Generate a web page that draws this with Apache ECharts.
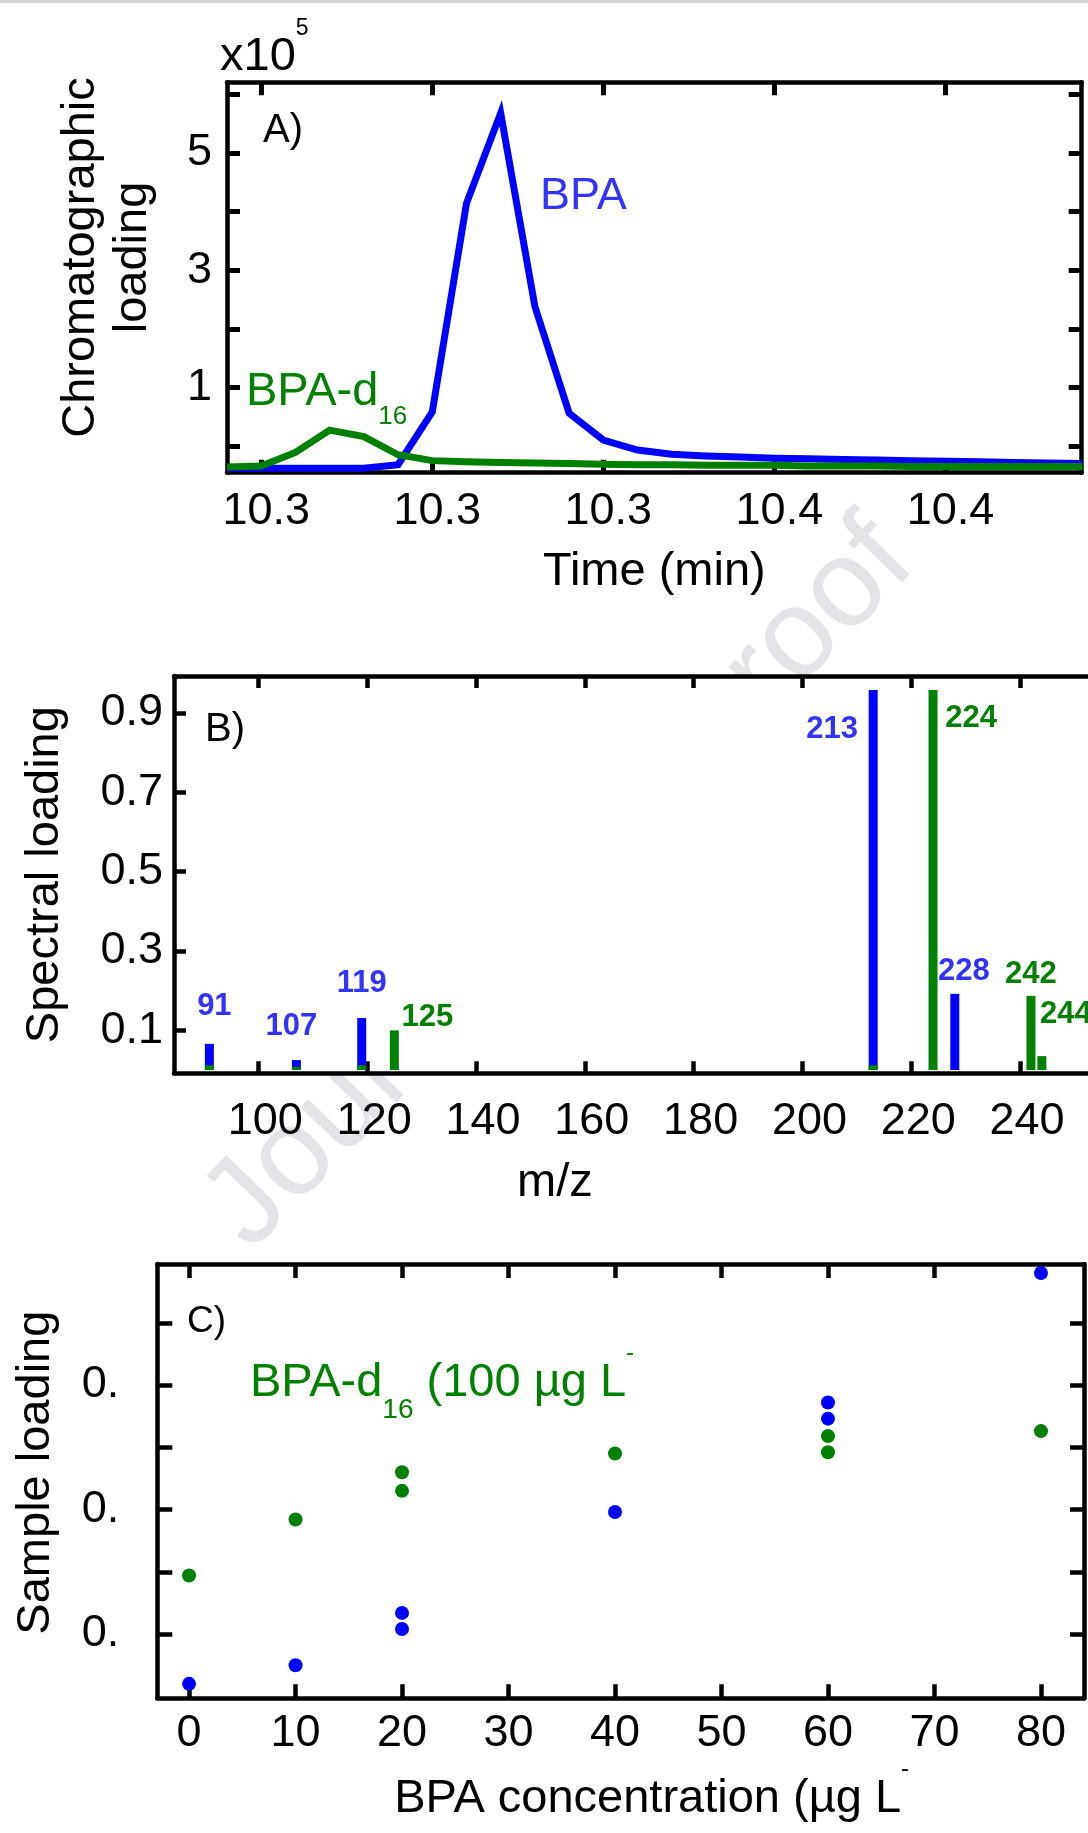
<!DOCTYPE html>
<html>
<head>
<meta charset="utf-8">
<script src="https://cdn.jsdelivr.net/npm/echarts@6/dist/echarts.min.js"></script>
<style>
  html, body { margin: 0; padding: 0; background: #fff; }
  #chart { width: 1088px; height: 1833px; }
</style>
</head>
<body>
<div id="chart"></div>
<script>
// ---------- Panel A: chromatographic loadings (x10^5) vs retention time ----------
const scanTime = [10.254, 10.260, 10.266, 10.272, 10.278, 10.284, 10.290, 10.296, 10.302, 10.308,
                  10.314, 10.320, 10.326, 10.332, 10.338, 10.344, 10.350, 10.356, 10.362, 10.368,
                  10.374, 10.380, 10.386, 10.392, 10.398, 10.404];
const bpaProfile = [-0.38, -0.38, -0.38, -0.38, -0.38, -0.32, 0.58, 4.14, 5.68, 2.38,
                    0.56, 0.10, -0.07, -0.14, -0.17, -0.19, -0.21, -0.22, -0.23, -0.24,
                    -0.25, -0.26, -0.27, -0.28, -0.29, -0.30];
const d16Profile = [-0.36, -0.34, -0.11, 0.27, 0.16, -0.15, -0.25, -0.27, -0.28, -0.29,
                    -0.30, -0.31, -0.32, -0.32, -0.33, -0.33, -0.33, -0.34, -0.34, -0.34,
                    -0.35, -0.35, -0.35, -0.35, -0.35, -0.35];
const timeTicks = [10.26, 10.29, 10.32, 10.35, 10.38];
const chromTicks = [0, 1, 2, 3, 4, 5, 6];
const chromLabels = [1, 3, 5];

// ---------- Panel B: spectral loadings vs m/z ----------
const bpaMz = [91, 107, 119, 213, 228];
const bpaSpectral = [0.066, 0.025, 0.131, 0.958, 0.192];
const d16Mz = [91, 107, 119, 125, 213, 224, 242, 244];
const d16Spectral = [0.012, 0.008, 0.012, 0.100, 0.012, 0.958, 0.187, 0.035];
const bpaLabelled = [91, 107, 119, 213, 228];
const d16Labelled = [125, 224, 242, 244];
const mzTicks = [100, 120, 140, 160, 180, 200, 220, 240];
const spectralTicks = [0.1, 0.3, 0.5, 0.7, 0.9];

// ---------- Panel C: sample loadings vs BPA concentration ----------
const bpaConc = [0, 10, 20, 20, 40, 60, 60, 80];
const bpaSample = [0.060, 0.075, 0.117, 0.104, 0.198, 0.286, 0.273, 0.390];
const d16Conc = [0, 10, 20, 20, 40, 60, 60, 80];
const d16Sample = [0.147, 0.192, 0.230, 0.215, 0.245, 0.259, 0.246, 0.263];
const concTicks = [0, 10, 20, 30, 40, 50, 60, 70, 80];
const sampleTicks = [0.1, 0.15, 0.2, 0.25, 0.3, 0.35];
const sampleLabels = [0.1, 0.2, 0.3];

// ---------- styling ----------
const FONT = '"Liberation Sans", Arial, Helvetica, sans-serif';
const BLUE = '#0000ff';
const BLUE_TEXT = '#3333ff';
const GREEN = '#008000';
const BLACK = '#000000';
const BAR_W = 9;

// where each peak's m/z tag sits, relative to the top of its bar (px)
const peakLabelNudge = {
  91: [5, -37], 107: [-5, -34], 119: [0, -35], 213: [-41, 39], 228: [9, -22],
  125: [33, -13], 224: [38, 28], 242: [0, -21], 244: [24, -42]
};

function frameAxis(o) {
  // one side of a boxed frame: solid black line, inward ticks
  return Object.assign({
    type: 'value',
    splitLine: { show: false },
    axisLine: { show: true, onZero: false, lineStyle: { color: BLACK, width: 4.5 } },
    axisTick: { show: true, inside: true, length: o.tickLen || 12,
                lineStyle: { color: BLACK, width: o.tickWidth || 4.5 },
                customValues: o.ticks },
    axisLabel: { show: false }
  }, o.extra || {});
}

function labelStyle(values, fmt, margin, padding) {
  return { show: true, customValues: values, formatter: fmt, margin: margin,
           fontFamily: FONT, fontSize: 45, lineHeight: 45, color: BLACK, padding: padding };
}

const gridA = { left: 227, top: 82.3, width: 854.7, height: 390.4 };
const gridB = { left: 174, top: 676, width: 927.7, height: 397.3 };
const gridC = { left: 157.3, top: 1264, width: 926.7, height: 434.3 };

const xAxes = [
  // A bottom
  frameAxis({ ticks: timeTicks, tickLen: 13, tickWidth: 5, extra: {
    gridIndex: 0, position: 'bottom', min: 10.2540, max: 10.4039,
    axisLabel: labelStyle(timeTicks, v => (Math.round(v * 10 + 1e-9) / 10).toFixed(1), 16.5, [0, 0, 0, 10]),
    name: 'Time (min)', nameLocation: 'middle', nameGap: 76,
    nameTextStyle: { fontFamily: FONT, fontSize: 47, lineHeight: 47, color: BLACK }
  }}),
  // A top
  frameAxis({ ticks: timeTicks, tickLen: 13, tickWidth: 5, extra: {
    gridIndex: 0, position: 'top', min: 10.2540, max: 10.4039 }}),
  // B bottom
  frameAxis({ ticks: mzTicks, tickLen: 12, extra: {
    gridIndex: 1, position: 'bottom', min: 84.5, max: 255,
    axisLabel: labelStyle(mzTicks, v => String(v), 25.7, [0, 0, 0, 14]),
    name: 'm/z', nameLocation: 'middle', nameGap: 86,
    nameTextStyle: { fontFamily: FONT, fontSize: 47, lineHeight: 47, color: BLACK, padding: [0, 166, 0, 0] }
  }}),
  // B top
  frameAxis({ ticks: mzTicks, tickLen: 12, extra: {
    gridIndex: 1, position: 'top', min: 84.5, max: 255 }}),
  // C bottom
  frameAxis({ ticks: concTicks, tickLen: 14, extra: {
    gridIndex: 2, position: 'bottom', min: -2.98, max: 84.04,
    axisLabel: labelStyle(concTicks, v => String(v), 13.2),
    name: '{m|BPA concentration (µg L}{p|-}', nameLocation: 'middle', nameGap: 76,
    nameTextStyle: { padding: [0, 0, 0, 62], rich: {
      m: { fontFamily: FONT, fontSize: 47, lineHeight: 47, color: BLACK },
      p: { fontFamily: FONT, fontSize: 24, lineHeight: 24, color: BLACK, padding: [0, 0, 59, 0] }
    }}
  }}),
  // C top
  frameAxis({ ticks: concTicks, tickLen: 14, extra: {
    gridIndex: 2, position: 'top', min: -2.98, max: 84.04 }})
];

const yAxes = [
  // A left
  frameAxis({ ticks: chromTicks, tickLen: 13, tickWidth: 5, extra: {
    gridIndex: 0, position: 'left', min: -0.456, max: 6.206,
    axisLabel: labelStyle(chromLabels, v => String(v), 15, [14, 0, 0, 0]),
    name: 'Chromatographic\nloading', nameLocation: 'middle', nameRotate: 90, nameGap: 68,
    nameTextStyle: { fontFamily: FONT, fontSize: 47, lineHeight: 52, color: BLACK, padding: [0, 0, 0, 40] }
  }}),
  // A right
  frameAxis({ ticks: chromTicks, tickLen: 13, tickWidth: 5, extra: {
    gridIndex: 0, position: 'right', min: -0.456, max: 6.206 }}),
  // B left
  frameAxis({ ticks: spectralTicks, tickLen: 12, extra: {
    gridIndex: 1, position: 'left', min: -0.0083, max: 0.9934,
    axisLabel: labelStyle(spectralTicks, v => v.toFixed(1), 11, [14, 0, 0, 0]),
    name: 'Spectral loading', nameLocation: 'middle', nameRotate: 90, nameGap: 103,
    nameTextStyle: { fontFamily: FONT, fontSize: 47, lineHeight: 52, color: BLACK }
  }}),
  // B right
  frameAxis({ ticks: spectralTicks, tickLen: 12, extra: {
    gridIndex: 1, position: 'right', min: -0.0083, max: 0.9934 }}),
  // C left
  frameAxis({ ticks: sampleTicks, tickLen: 15, extra: {
    gridIndex: 2, position: 'left', min: 0.0484, max: 0.3972,
    axisLabel: labelStyle(sampleLabels, v => String(v).slice(0, 2), 38, [10, 0, 0, 0]),
    name: 'Sample loading', nameLocation: 'middle', nameRotate: 90, nameGap: 95,
    nameTextStyle: { fontFamily: FONT, fontSize: 47, lineHeight: 52, color: BLACK, padding: [0, 0, 0, 17] }
  }}),
  // C right
  frameAxis({ ticks: sampleTicks, tickLen: 14, extra: {
    gridIndex: 2, position: 'right', min: 0.0484, max: 0.3972 }})
];

// stick spectrum: one thin bar per m/z, tagged with its m/z where listed
function peakSeries(mz, vals, labelled, barColor, textColor) {
  return {
    type: 'custom', xAxisIndex: 2, yAxisIndex: 2, clip: false,
    data: mz.map((m, i) => [m, vals[i]]),
    renderItem: (params, api) => {
      const m = api.value(0);
      const v = api.value(1);
      const base = api.coord([m, 0]);
      const top = api.coord([m, v]);
      const children = [{
        type: 'rect',
        shape: { x: top[0] - BAR_W / 2, y: top[1], width: BAR_W, height: base[1] - top[1] },
        style: { fill: barColor }
      }];
      if (labelled.includes(m)) {
        const n = peakLabelNudge[m] || [0, -20];
        children.push({
          type: 'text', x: top[0] + n[0], y: top[1] + n[1],
          style: { text: String(m), font: 'bold 31px ' + FONT, fill: textColor,
                   align: 'center', verticalAlign: 'middle' }
        });
      }
      return { type: 'group', children: children };
    }
  };
}

const series = [
  { type: 'line', xAxisIndex: 0, yAxisIndex: 0, showSymbol: false, symbol: 'none',
    data: scanTime.map((t, i) => [t, bpaProfile[i]]),
    lineStyle: { color: BLUE, width: 7, join: 'miter' }, z: 3 },
  { type: 'line', xAxisIndex: 0, yAxisIndex: 0, showSymbol: false, symbol: 'none',
    data: scanTime.map((t, i) => [t, d16Profile[i]]),
    lineStyle: { color: GREEN, width: 7, join: 'miter' }, z: 4 },
  peakSeries(bpaMz, bpaSpectral, bpaLabelled, BLUE, BLUE_TEXT),
  peakSeries(d16Mz, d16Spectral, d16Labelled, GREEN, GREEN),
  { type: 'scatter', xAxisIndex: 4, yAxisIndex: 4, symbolSize: 14,
    itemStyle: { color: GREEN, opacity: 1 },
    data: d16Conc.map((c, i) => [c, d16Sample[i]]) },
  { type: 'scatter', xAxisIndex: 4, yAxisIndex: 4, symbolSize: 14,
    itemStyle: { color: BLUE, opacity: 1 },
    data: bpaConc.map((c, i) => [c, bpaSample[i]]) }
];

const textEl = (x, y, rich, text) => ({
  type: 'text', x: x, y: y, z: 50,
  style: { text: text, rich: rich, align: 'left', verticalAlign: 'middle' }
});

const graphic = [
  { type: 'rect', z: 50, shape: { x: 0, y: 0, width: 1088, height: 3 }, style: { fill: '#d4d4d4' } },
  { type: 'text', z: -100, x: 560, y: 885, rotation: 0.80,
    style: { text: 'Journal Pre-proof', font: '124px "Liberation Sans", Arial, sans-serif',
             fill: '#e4e4e6', align: 'center', verticalAlign: 'middle' } },
  // x10^5 scale note
  textEl(220, 56.7, {
    a: { fontFamily: FONT, fontSize: 47, lineHeight: 47, fill: BLACK },
    s: { fontFamily: FONT, fontSize: 23, lineHeight: 23, fill: BLACK, padding: [0, 0, 56, 0] }
  }, '{a|x10}{s|5}'),
  // panel tags
  textEl(263, 131, { t: { fontFamily: FONT, fontSize: 40, lineHeight: 40, fill: BLACK } }, '{t|A)}'),
  textEl(205, 730, { t: { fontFamily: FONT, fontSize: 40, lineHeight: 40, fill: BLACK } }, '{t|B)}'),
  textEl(187, 1322, { t: { fontFamily: FONT, fontSize: 37, lineHeight: 37, fill: BLACK } }, '{t|C)}'),
  // series captions in panel A
  textEl(540, 197, { t: { fontFamily: FONT, fontSize: 45, lineHeight: 45, fill: BLUE_TEXT } }, '{t|BPA}'),
  textEl(246, 392, {
    m: { fontFamily: FONT, fontSize: 47, lineHeight: 47, fill: GREEN },
    b: { fontFamily: FONT, fontSize: 26, lineHeight: 26, fill: GREEN, padding: [50, 0, 0, 0] }
  }, '{m|BPA-d}{b|16}'),
  // caption in panel C
  textEl(250, 1383, {
    m: { fontFamily: FONT, fontSize: 47, lineHeight: 47, fill: GREEN },
    b: { fontFamily: FONT, fontSize: 28, lineHeight: 28, fill: GREEN, padding: [54, 0, 0, 0] },
    p: { fontFamily: FONT, fontSize: 24, lineHeight: 24, fill: GREEN, padding: [0, 0, 60, 0] }
  }, '{m|BPA-d}{b|16}{m| (100 µg L}{p|-}')
];

const chart = echarts.init(document.getElementById('chart'), null, { renderer: 'canvas' });
chart.setOption({
  animation: false,
  backgroundColor: '#ffffff',
  grid: [gridA, gridB, gridC].map(g => Object.assign({
    show: true, backgroundColor: '#ffffff', borderWidth: 0,
    containLabel: false, outerBoundsMode: 'none'
  }, g)),
  xAxis: xAxes,
  yAxis: yAxes,
  series: series,
  graphic: graphic
});
</script>
</body>
</html>
